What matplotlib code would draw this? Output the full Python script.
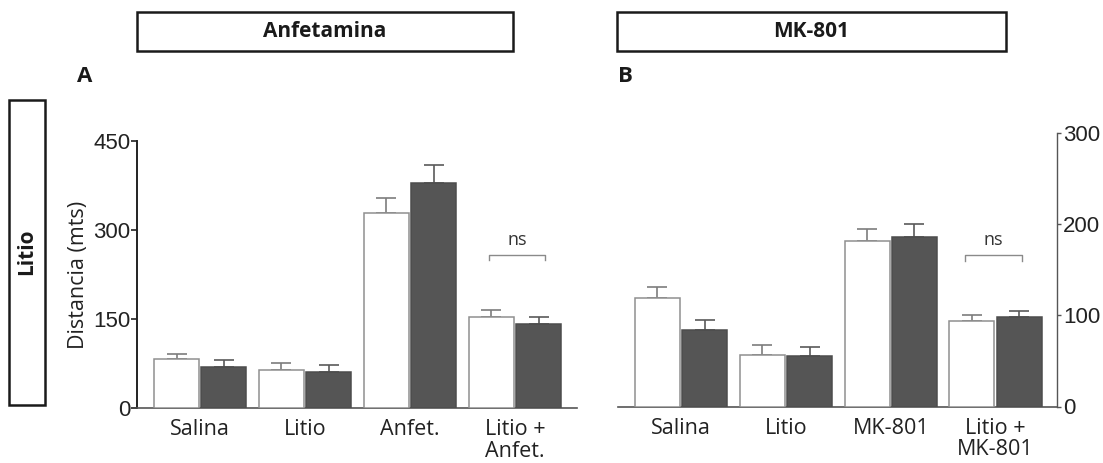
import numpy as np
import matplotlib
matplotlib.use('Agg')
import matplotlib.pyplot as plt
from matplotlib.patches import Rectangle
from matplotlib import font_manager

# grupos y medias (distancia recorrida, mts)
grupos_a = ['Salina', 'Litio', 'Anfet.', 'Litio +\nAnfet.']
blanco_a = [83.6, 65.3, 328.9, 154.0]
blanco_a_err = [7.1, 10.2, 25.9, 11.3]
negro_a = [70.1, 60.4, 379.6, 141.9]
negro_a_err = [10.9, 13.0, 30.6, 11.0]
ticks_a = [0, 150, 300, 450]

grupos_b = ['Salina', 'Litio', 'MK-801', 'Litio +\nMK-801']
blanco_b = [119.2, 56.7, 181.2, 93.9]
blanco_b_err = [12.0, 10.7, 13.2, 6.1]
negro_b = [84.4, 56.0, 185.7, 98.2]
negro_b_err = [11.0, 9.2, 15.1, 7.2]
ticks_b = [0, 100, 200, 300]

W, H = 1103, 463
plt.rcParams['font.family'] = ['Open Sans', 'DejaVu Sans']

nombres = {f.name for f in font_manager.fontManager.ttflist}
fuente_num = 'Liberation Sans Narrow' if 'Liberation Sans Narrow' in nombres else 'Liberation Sans'

fig = plt.figure(figsize=(W / 100, H / 100), dpi=100)


def caja(x0, y0, x1, y1):
    # rectangulo en pixeles (origen arriba a la izquierda)
    fig.patches.append(Rectangle((x0 / W, 1 - y1 / H), (x1 - x0) / W, (y1 - y0) / H,
                                 transform=fig.transFigure, fill=False,
                                 edgecolor='#1a1a1a', linewidth=1.8))


def texto(x, y, s, **kw):
    fig.text(x / W, 1 - y / H, s, ha='center', va='center', **kw)


def ejes(x0, y0, x1, y1):
    return fig.add_axes([x0 / W, 1 - y1 / H, (x1 - x0) / W, (y1 - y0) / H])


def panel(ax, grupos, blanco, blanco_err, negro, negro_err):
    x = np.arange(len(grupos))
    w = 0.43
    d = 0.226
    ax.bar(x - d, blanco, w, color='white', edgecolor='#8f8f8f', linewidth=1.1, zorder=3)
    ax.bar(x + d, negro, w, color='#555555', edgecolor='#4d4d4d', linewidth=1.1, zorder=3)
    ceros = np.zeros(len(x))
    ax.errorbar(x - d, blanco, yerr=[ceros, blanco_err], fmt='none', ecolor='#7d7d7d',
                elinewidth=1.2, capsize=7.5, capthick=1.2, zorder=2)
    ax.errorbar(x + d, negro, yerr=[ceros, negro_err], fmt='none', ecolor='#5a5a5a',
                elinewidth=1.2, capsize=7.5, capthick=1.2, zorder=2)
    ax.set_xlim(-0.6, 3.59)
    ax.set_xticks(x)
    ax.set_xticklabels(grupos, fontsize=15.5, linespacing=1.05, color='#222222')
    ax.tick_params(axis='x', length=0, pad=8)
    ax.spines['top'].set_visible(False)
    ax.spines['bottom'].set_color('#555555')
    ax.spines['bottom'].set_linewidth(1.2)


def corchete(ax, xc, y, caida):
    ax.plot([xc - 0.27, xc - 0.27, xc + 0.27, xc + 0.27], [y - caida, y, y, y - caida],
            color='#8a8a8a', lw=1.0, zorder=4)


# panel A: anfetamina
axa = ejes(137.3, 141, 576.7, 408.3)
panel(axa, grupos_a, blanco_a, blanco_a_err, negro_a, negro_a_err)
axa.set_ylim(0, 450)
axa.set_yticks(ticks_a)
axa.set_yticklabels([str(t) for t in ticks_a], fontfamily=fuente_num, fontsize=16, color='#222222')
axa.tick_params(axis='y', length=4, width=1.2, pad=1, color='#222222')
axa.spines['right'].set_visible(False)
axa.spines['left'].set_color('#222222')
axa.spines['left'].set_linewidth(1.4)
axa.set_ylabel('Distancia (mts)', fontsize=15.5, labelpad=3, color='#222222')
corchete(axa, 3.02, 258, 8.5)
axa.text(3.02, 283, 'ns', ha='center', va='center', fontsize=13, color='#333333')

# panel B: MK-801
axb = ejes(618.3, 133.3, 1057.3, 406.5)
panel(axb, grupos_b, blanco_b, blanco_b_err, negro_b, negro_b_err)
axb.set_ylim(0, 300)
axb.yaxis.tick_right()
axb.set_yticks(ticks_b)
axb.set_yticklabels([str(t) for t in ticks_b], fontfamily=fuente_num, fontsize=16, color='#222222')
axb.tick_params(axis='y', length=3, width=1.0, pad=1, color='#555555')
axb.spines['left'].set_visible(False)
axb.spines['right'].set_color('#555555')
axb.spines['right'].set_linewidth(1.0)
corchete(axb, 2.98, 166, 6)
axb.text(2.98, 183, 'ns', ha='center', va='center', fontsize=13, color='#333333')

# cabeceras
caja(136.7, 12.3, 512.7, 50.7)
texto(324.7, 31.5, 'Anfetamina', fontsize=15, fontweight='bold', color='#1a1a1a')
caja(617.3, 12.3, 1005.7, 50.7)
texto(811.5, 31.5, 'MK-801', fontsize=15, fontweight='bold', color='#1a1a1a')
caja(9, 100, 45, 405)
texto(27, 252, 'Litio', fontsize=15, fontweight='bold', rotation=90, color='#1a1a1a')
texto(85, 76, 'A', fontsize=16, fontweight='bold', color='#1a1a1a')
texto(625, 77, 'B', fontsize=16, fontweight='bold', color='#1a1a1a')

fig.savefig('out.png', dpi=100, facecolor='white')
